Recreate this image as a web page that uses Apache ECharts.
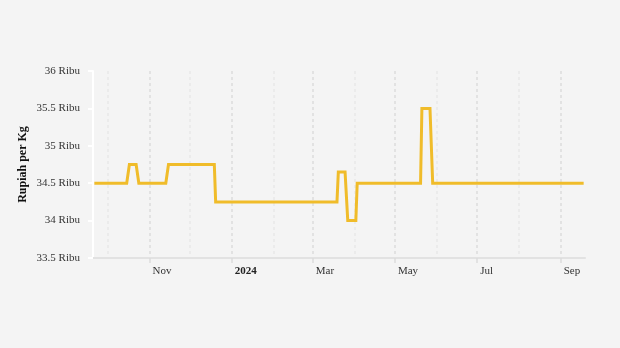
<!DOCTYPE html>
<html>
<head>
<meta charset="utf-8">
<script src="https://cdn.jsdelivr.net/npm/echarts@6/dist/echarts.min.js"></script>
<style>
html,body{margin:0;padding:0;background:#f4f4f4;}
#c{width:620px;height:348px;}
</style>
</head>
<body>
<div id="c"></div>
<script>
// Price data (Rupiah per Kg) at change points
var dates = ['2023-09-21','2023-10-15','2023-10-17','2023-10-22','2023-10-24','2023-11-13','2023-11-15','2023-12-19','2023-12-20','2024-03-19','2024-03-20','2024-03-25','2024-03-27','2024-04-02','2024-04-03','2024-05-20','2024-05-21','2024-05-27','2024-05-29','2024-09-18'];
var prices = [34500,34500,34750,34750,34500,34500,34750,34750,34250,34250,34650,34650,34000,34000,34500,34500,35500,35500,34500,34500];
var majorTicks = ['2023-11-01','2024-01-01','2024-03-01','2024-05-01','2024-07-01','2024-09-01'];
var minorTicks = ['2023-10-01','2023-12-01','2024-02-01','2024-04-01','2024-06-01','2024-08-01'];
var monthNames = ['Jan','Feb','Mar','Apr','May','Jun','Jul','Aug','Sep','Oct','Nov','Dec'];
var yTicks = [33500,34000,34500,35000,35500,36000];

function toTs(s){var p=s.split('-');return new Date(+p[0],+p[1]-1,+p[2]).getTime();}
var seriesData = dates.map(function(d,i){return [toTs(d),prices[i]];});
var xMin = toTs('2023-09-20'), xMax = toTs('2024-09-19');
var font = 'Liberation Serif';

var chart = echarts.init(document.getElementById('c'));
chart.setOption({
  backgroundColor:'#f4f4f4',
  animation:false,
  grid:{left:93,right:35,top:71,bottom:90},
  xAxis:[{
    type:'value',min:xMin,max:xMax,scale:true,
    axisLine:{show:true,lineStyle:{color:'#e2e2e2',width:2}},
    axisTick:{show:true,length:5,customValues:majorTicks.map(toTs),lineStyle:{color:'#dcdcdc',width:1.5}},
    splitLine:{show:true,lineStyle:{color:'#dcdcdc',width:1.5,type:[3,3]}},
    axisLabel:{
      customValues:majorTicks.map(toTs),
      margin:8,align:'left',padding:[0,0,0,3],
      fontFamily:font,fontSize:11,color:'#333',
      formatter:function(v){var d=new Date(v);if(d.getMonth()===0)return '{b|'+d.getFullYear()+'}';return monthNames[d.getMonth()];},
      rich:{b:{fontWeight:'bold',fontFamily:font,fontSize:11,color:'#222'}}
    }
  },{
    type:'value',min:xMin,max:xMax,scale:true,position:'bottom',
    axisLine:{show:false},
    axisTick:{show:false,customValues:minorTicks.map(toTs)},
    axisLabel:{show:false,customValues:minorTicks.map(toTs)},
    splitLine:{show:true,lineStyle:{color:'#e8e8e8',width:1.5,type:[3,3]}}
  }],
  yAxis:{
    type:'value',min:33500,max:36000,interval:500,
    name:'Rupiah per Kg',nameLocation:'middle',nameGap:64,nameRotate:90,nameMoveOverlap:false,
    nameTextStyle:{fontFamily:font,fontSize:12,fontWeight:'bold',color:'#111'},
    axisLine:{show:true,lineStyle:{color:'#ffffff',width:2}},
    axisTick:{show:true,length:5,lineStyle:{color:'#ffffff',width:2}},
    splitLine:{show:false},
    axisLabel:{margin:13,fontFamily:font,fontSize:11,color:'#333',lineHeight:14,
      formatter:function(v){return (v/1000)+' Ribu';}}
  },
  series:[{
    type:'line',xAxisIndex:0,data:seriesData,showSymbol:false,symbol:'none',
    lineStyle:{color:'#f0bc2a',width:3,join:'miter'},
    itemStyle:{color:'#f0bc2a'}
  }]
});
</script>
</body>
</html>
